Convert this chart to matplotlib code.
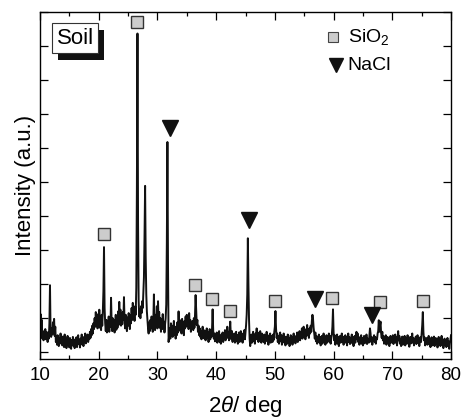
import numpy as np
import matplotlib
matplotlib.use('Agg')
import matplotlib.pyplot as plt
import matplotlib.patheffects as pe
from matplotlib.ticker import MultipleLocator

plt.rcParams['font.family'] = ['Liberation Sans', 'DejaVu Sans']
plt.rcParams['mathtext.fontset'] = 'custom'
plt.rcParams['mathtext.rm'] = 'Liberation Sans'
plt.rcParams['mathtext.it'] = 'Liberation Sans:italic'

# 2theta from 10 to 80 deg, 0.1 deg step; intensity (a.u.)
two_theta = np.round(np.arange(10.0, 80.05, 0.1), 1)
intensity = [
    70, 112, 58, 95, 40, 62, 35, 55, 42, 68, 38, 60, 45, 30, 58, 40, 85, 197, 60, 45,        # 10
    70, 52, 88, 60, 98, 48, 75, 30, 45, 22, 50, 35, 18, 42, 28, 55, 25, 40, 20, 46,          # 12
    30, 15, 52, 28, 40, 12, 35, 48, 20, 38, 14, 42, 25, 10, 36, 22, 45, 18, 30, 12,          # 14
    38, 20, 44, 15, 32, 50, 24, 36, 14, 40, 28, 52, 22, 38, 18, 45, 30, 55, 26, 42,          # 16
    35, 52, 30, 48, 38, 60, 42, 68, 50, 78, 55, 85, 68, 100, 75, 118, 82, 105, 70, 112,      # 18
    80, 125, 72, 98, 65, 110, 78, 120, 180, 309, 130, 85, 62, 95, 58, 88, 70, 105, 60, 92,   # 20
    75, 160, 88, 62, 100, 70, 95, 58, 82, 110, 66, 98, 72, 120, 80, 148, 90, 125, 78, 105,   # 22
    82, 118, 96, 162, 88, 70, 110, 84, 62, 102, 78, 115, 90, 68, 108, 85, 130, 95, 145, 100, # 24
    120, 92, 135, 110, 190, 480, 937, 380, 150, 105, 125, 100, 135, 115, 150, 130, 175, 220, 340, 489,  # 26
    280, 170, 120, 95, 70, 55, 88, 62, 95, 70, 105, 78, 60, 92, 170, 85, 65, 110, 75, 135,   # 28
    70, 150, 88, 118, 72, 100, 60, 95, 68, 112, 75, 90, 58, 82, 100, 140, 320, 618, 260, 30, # 30
    48, 70, 40, 85, 55, 78, 45, 66, 92, 52, 75, 40, 68, 50, 88, 58, 120, 70, 95, 62,         # 32
    80, 55, 98, 65, 85, 50, 92, 70, 105, 75, 110, 82, 100, 68, 115, 78, 95, 60, 88, 70,      # 34
    92, 65, 100, 72, 110, 168, 120, 80, 95, 60, 78, 50, 70, 45, 62, 38, 58, 75, 42, 65,      # 36
    40, 62, 35, 55, 70, 42, 60, 30, 52, 68, 38, 58, 45, 70, 126, 62, 40, 55, 32, 50,         # 38
    38, 58, 28, 48, 35, 62, 30, 45, 25, 52, 36, 58, 30, 48, 40, 65, 35, 55, 45, 75,          # 40
    42, 60, 35, 58, 90, 50, 38, 62, 30, 50, 35, 55, 28, 45, 60, 32, 50, 25, 44, 58,          # 42
    30, 48, 62, 35, 55, 28, 50, 40, 65, 38, 60, 80, 110, 170, 335, 200, 95, 40, 18, 35,      # 44
    52, 28, 45, 60, 32, 48, 25, 55, 38, 70, 42, 58, 30, 50, 35, 62, 40, 28, 55, 36,          # 46
    48, 30, 52, 25, 45, 38, 60, 32, 50, 22, 42, 35, 55, 28, 48, 40, 30, 52, 36, 60,          # 48
    75, 121, 70, 42, 55, 30, 48, 25, 44, 58, 32, 50, 22, 40, 35, 55, 28, 46, 20, 38,         # 50
    45, 25, 52, 30, 42, 18, 38, 50, 28, 45, 22, 40, 55, 32, 48, 26, 42, 35, 58, 30,          # 52
    50, 38, 62, 35, 55, 42, 70, 40, 58, 75, 45, 68, 38, 60, 48, 80, 50, 65, 42, 70,          # 54
    55, 78, 60, 92, 110, 98, 72, 55, 40, 58, 32, 48, 25, 42, 30, 52, 28, 45, 20, 38,         # 56
    48, 25, 40, 55, 30, 46, 22, 38, 50, 28, 44, 35, 55, 30, 48, 25, 40, 52, 75, 126,         # 58
    60, 35, 50, 22, 40, 30, 52, 25, 45, 18, 38, 48, 28, 42, 55, 30, 46, 22, 40, 32,          # 60
    50, 28, 44, 20, 38, 55, 30, 45, 24, 40, 35, 52, 26, 44, 18, 36, 48, 28, 42, 60,          # 62
    38, 55, 30, 45, 22, 40, 32, 50, 25, 42, 20, 38, 48, 26, 44, 30, 52, 24, 40, 35,          # 64
    28, 48, 70, 55, 30, 45, 22, 40, 35, 50, 30, 45, 25, 42, 38, 55, 62, 94, 60, 78,          # 66
    90, 55, 42, 60, 35, 48, 25, 40, 30, 50, 22, 38, 45, 26, 42, 18, 36, 48, 28, 40,          # 68
    32, 50, 24, 40, 35, 52, 28, 44, 20, 38, 62, 35, 48, 25, 40, 18, 36, 46, 22, 38,          # 70
    30, 48, 20, 36, 42, 25, 50, 30, 44, 16, 34, 45, 26, 40, 55, 28, 42, 20, 36, 30,          # 72
    46, 24, 38, 50, 28, 42, 18, 35, 45, 30, 55, 80, 118, 60, 35, 44, 20, 38, 28, 42,         # 74
    22, 36, 48, 25, 40, 15, 34, 44, 20, 38, 28, 46, 18, 35, 42, 24, 38, 14, 32, 45,          # 76
    26, 40, 18, 34, 48, 22, 36, 12, 30, 40, 20, 35, 15, 28, 42, 18, 32, 10, 26, 36,          # 78
    50,
]

# phase markers
sio2_x = [20.9, 26.6, 36.45, 39.25, 42.35, 49.95, 59.8, 67.9, 75.2]
sio2_y = [347, 971, 197, 156, 121, 150, 160, 148, 150]
nacl_x = [32.1, 45.6, 56.8, 66.5]
nacl_y = [658, 388, 155, 109]

fig = plt.figure(figsize=(4.62, 4.18), dpi=100)
ax = fig.add_axes([0.0866, 0.1411, 0.8896, 0.830])

ax.plot(two_theta, intensity, color='#111111', lw=1.4)
ax.plot(sio2_x, sio2_y, ls='none', marker='s', ms=8.5, mfc='#cccccc', mec='#333333', mew=1.0)
ax.plot(nacl_x, nacl_y, ls='none', marker='v', ms=12, mfc='#111111', mec='#111111')

# legend drawn by hand so it sits where the original one is
ax.plot([0.714], [0.927], transform=ax.transAxes, ls='none', marker='s', ms=6.5,
        mfc='#cccccc', mec='#444444', mew=0.8)
ax.plot([0.720], [0.847], transform=ax.transAxes, ls='none', marker='v', ms=10,
        mfc='#111111', mec='#111111')
ax.text(0.749, 0.927, 'SiO$_2$', transform=ax.transAxes, fontsize=14, va='center', ha='left')
ax.text(0.749, 0.847, 'NaCl', transform=ax.transAxes, fontsize=14, va='center', ha='left')

soil = ax.text(0.0857, 0.925, 'Soil', transform=ax.transAxes, fontsize=16, ha='center', va='center',
               bbox=dict(boxstyle='square,pad=0.2', fc='white', ec='#333333', lw=0.8))
soil.get_bbox_patch().set_path_effects([
    pe.SimplePatchShadow(offset=(4.5, -4.8), shadow_rgbFace='#111111', alpha=1.0),
    pe.Normal()])

ax.set_xlim(10, 80)
ax.set_ylim(-20, 1000)
ax.xaxis.set_major_locator(MultipleLocator(10))
ax.xaxis.set_minor_locator(MultipleLocator(5))
ax.yaxis.set_major_locator(MultipleLocator(100))
ax.tick_params(which='both', direction='in', top=True, right=True, width=0.9)
ax.tick_params(which='major', length=5.5, labelsize=13.5, pad=6)
ax.tick_params(which='minor', length=3)
ax.tick_params(axis='y', labelleft=False)
for s in ax.spines.values():
    s.set_linewidth(1.0)

ax.set_xlabel('2$\\theta$/ deg', fontsize=16, labelpad=7)
ax.set_ylabel('Intensity (a.u.)', fontsize=16, labelpad=3)

fig.savefig('out.png', dpi=100)
